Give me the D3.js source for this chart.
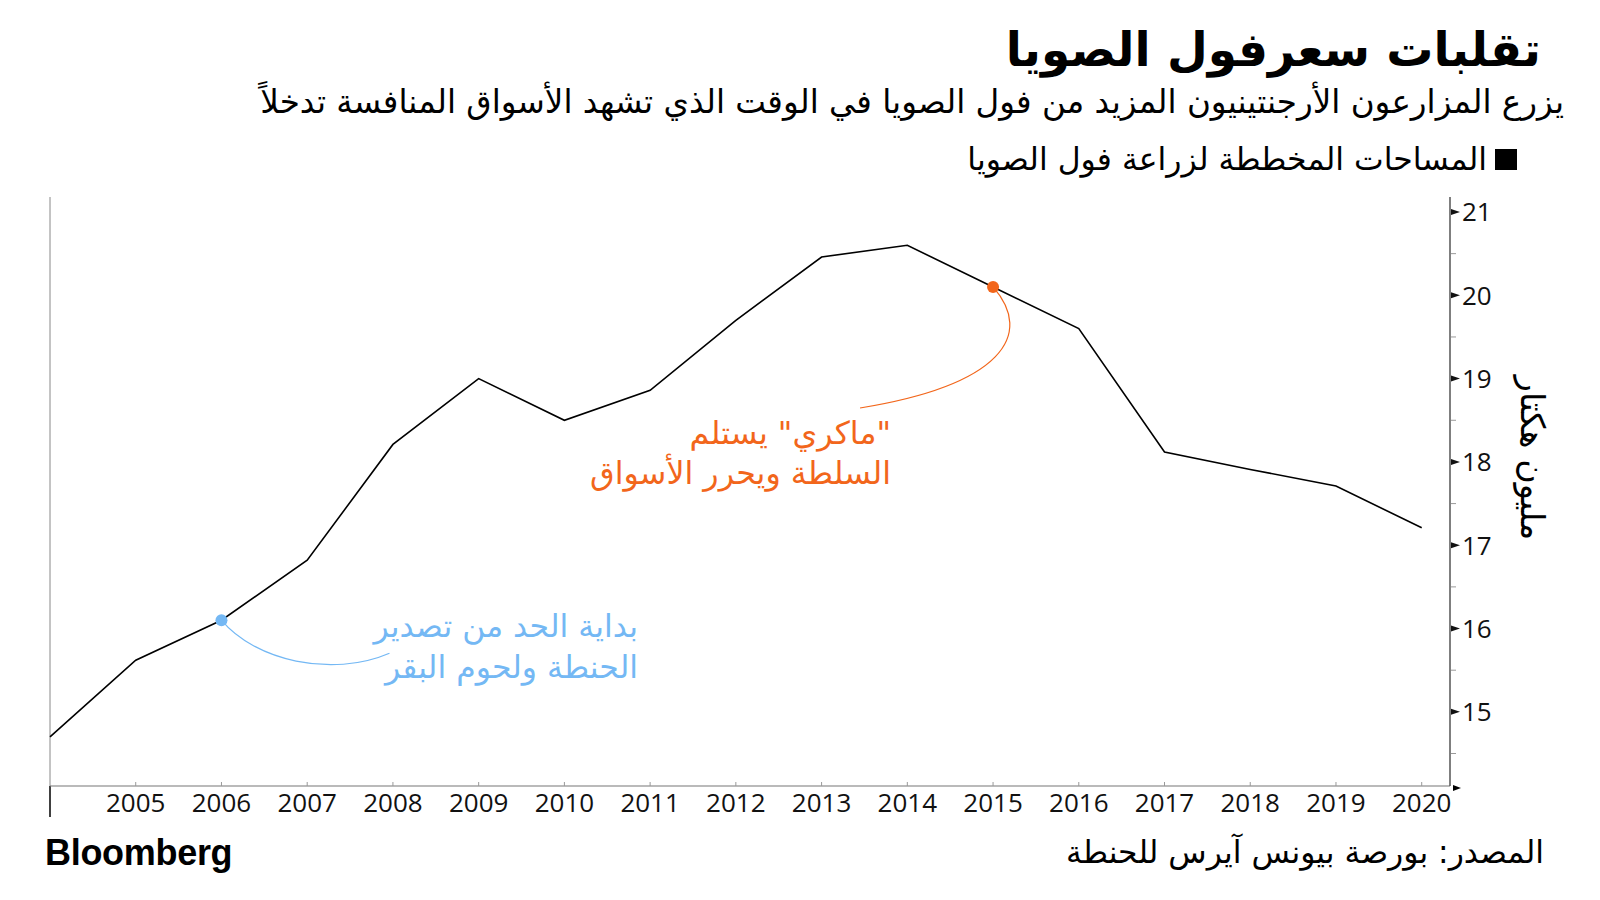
<!DOCTYPE html>
<html><head><meta charset="utf-8">
<script src="https://cdn.jsdelivr.net/npm/d3@7"></script>
<style>
html,body{margin:0;padding:0;background:#fff;}
svg{display:block;}
.ar{font-family:"DejaVu Sans",sans-serif;}
.num{font-family:"Open Sans",sans-serif;}
</style></head>
<body>
<svg id="chart" width="1600" height="900"></svg>
<script>
const years = [2004,2005,2006,2007,2008,2009,2010,2011,2012,2013,2014,2015,2016,2017,2018,2019,2020];
const hectares = [14.70,15.62,16.10,16.82,18.21,19.00,18.50,18.86,19.70,20.46,20.60,20.10,19.60,18.12,17.91,17.71,17.21];
const xTickYears = [2005,2006,2007,2008,2009,2010,2011,2012,2013,2014,2015,2016,2017,2018,2019,2020];
const yTicks = [15,16,17,18,19,20,21];
const yMinorTicks = [14.5,15.5,16.5,17.5,18.5,19.5,20.5];
const annotations = [
  {year:2006, value:16.10, color:"#74b8f4", lines:["بداية الحد من تصدير","الحنطة ولحوم البقر"]},
  {year:2015, value:20.10, color:"#f2661b", lines:["\"ماكري\" يستلم","السلطة ويحرر الأسواق"]}
];
const title = "تقلبات سعرفول الصويا";
const subtitle = "يزرع المزارعون الأرجنتينيون المزيد من فول الصويا في الوقت الذي تشهد الأسواق المنافسة تدخلاً";
const legendLabel = "المساحات المخططة لزراعة فول الصويا";
const yTitle = "مليون هكتار";
const source = "المصدر: بورصة بيونس آيرس للحنطة";

const svg = d3.select("#chart");
const L = 50, R = 1450, T = 197, B = 786;
const x = d3.scaleLinear().domain([2004, 2020.33]).range([L, R]);
const y = d3.scaleLinear().domain([14.11, 21.18]).range([B, T]);

// Title etc.
svg.append("text").attr("class","ar").attr("x",1541).attr("y",66)
  .attr("direction","rtl").attr("text-anchor","start")
  .attr("font-size",47).attr("font-weight","bold").attr("fill","#000").text(title);
svg.append("text").attr("class","ar").attr("x",1564).attr("y",113)
  .attr("direction","rtl").attr("text-anchor","start")
  .attr("font-size",32.6).attr("fill","#000").text(subtitle);
svg.append("rect").attr("x",1495).attr("y",149).attr("width",22).attr("height",21).attr("fill","#000");
svg.append("text").attr("class","ar").attr("x",1487).attr("y",170)
  .attr("direction","rtl").attr("text-anchor","start")
  .attr("font-size",31.5).attr("fill","#000").text(legendLabel);

// left frame line
svg.append("line").attr("x1",L).attr("x2",L).attr("y1",T).attr("y2",B)
  .attr("stroke","#888").attr("stroke-width",1);
svg.append("line").attr("x1",L).attr("x2",L).attr("y1",B).attr("y2",B+31)
  .attr("stroke","#000").attr("stroke-width",1.5);

// x axis
const gx = svg.append("g").attr("transform",`translate(0,${B})`);
gx.append("line").attr("x1",L).attr("x2",R).attr("stroke","#777").attr("stroke-width",1.2);
gx.selectAll(".xt").data(xTickYears).join("line")
  .attr("x1",d=>x(d)).attr("x2",d=>x(d)).attr("y1",-4).attr("y2",0)
  .attr("stroke","#999");
gx.selectAll(".xl").data(xTickYears).join("text").attr("class","num")
  .attr("x",d=>x(d)).attr("y",26).attr("text-anchor","middle")
  .attr("font-size",26).attr("fill","#111").text(d=>d);
gx.append("path").attr("d",`M${R+3},-1 L${R+11},2 L${R+3},5 Z`).attr("fill","#000");

// y axis (right)
const gy = svg.append("g").attr("transform",`translate(${R},0)`);
gy.append("line").attr("y1",T).attr("y2",B).attr("stroke","#555").attr("stroke-width",1.5);
gy.selectAll(".ym").data(yMinorTicks).join("line")
  .attr("x1",1).attr("x2",6).attr("y1",d=>y(d)).attr("y2",d=>y(d)).attr("stroke","#999");
gy.selectAll(".ytri").data(yTicks).join("path")
  .attr("d",d=>`M1,${y(d)-3} L10,${y(d)} L1,${y(d)+3} Z`).attr("fill","#111");
gy.selectAll(".yl").data(yTicks).join("text").attr("class","num")
  .attr("x",12).attr("y",d=>y(d)).attr("dy","0.36em")
  .attr("font-size",26).attr("fill","#111").text(d=>d);
svg.append("text").attr("class","ar")
  .attr("transform",`translate(1521,458) rotate(90)`)
  .attr("text-anchor","middle").attr("font-size",33.5).attr("fill","#000").text(yTitle);

// line
const line = d3.line().x((d,i)=>x(years[i])).y(d=>y(d));
svg.append("path").datum(hectares).attr("d",line)
  .attr("fill","none").attr("stroke","#000").attr("stroke-width",1.6);

// annotations
const a0 = annotations[0], a1 = annotations[1];
{
  const px = x(a0.year), py = y(a0.value);
  svg.append("path").attr("d",`M${px},${py} C${px+33},${py+40} ${px+110},${py+58} ${px+168},${py+33}`)
    .attr("fill","none").attr("stroke",a0.color).attr("stroke-width",1.2);
  svg.append("circle").attr("cx",px).attr("cy",py).attr("r",6).attr("fill",a0.color);
  a0.lines.forEach((t,i)=>svg.append("text").attr("class","ar")
    .attr("x",638).attr("y",637+i*41).attr("direction","rtl").attr("text-anchor","start")
    .attr("font-size",31.5).attr("fill",a0.color).text(t));
}
{
  const px = x(a1.year), py = y(a1.value);
  svg.append("path").attr("d",`M${px},${py} C${px+42},${py+48} ${px+8},${py+98} ${px-133},${py+121}`)
    .attr("fill","none").attr("stroke",a1.color).attr("stroke-width",1.2);
  svg.append("circle").attr("cx",px).attr("cy",py).attr("r",6).attr("fill",a1.color);
  a1.lines.forEach((t,i)=>svg.append("text").attr("class","ar")
    .attr("x",891).attr("y",444+i*40).attr("direction","rtl").attr("text-anchor","start")
    .attr("font-size",31.7).attr("fill",a1.color).text(t));
}

// footer
svg.append("text").attr("x",45).attr("y",865)
  .attr("font-family","Liberation Sans, Arial, sans-serif").attr("font-weight","bold")
  .attr("font-size",36).attr("letter-spacing",-0.3).attr("fill","#000").text("Bloomberg");
svg.append("text").attr("class","ar").attr("x",1544).attr("y",863)
  .attr("direction","rtl").attr("text-anchor","start")
  .attr("font-size",31.4).attr("fill","#000").text(source);
</script>
</body></html>
